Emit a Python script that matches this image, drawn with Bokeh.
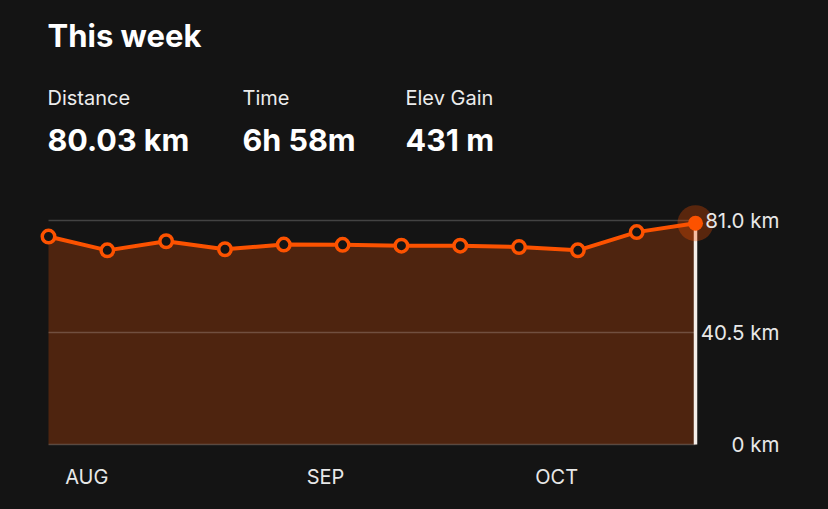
import re
from bokeh.plotting import figure
from bokeh.models import Range1d
from bokeh.core.properties import value
from bokeh.embed import file_html
from bokeh.resources import INLINE

# ---------------- data ----------------
title_text = "This week"
stat_labels = ["Distance", "Time", "Elev Gain"]
stat_values = ["80.03 km", "6h 58m", "431 m"]
weekly_km = [75.2, 70.2, 73.5, 70.6, 72.3, 72.2, 71.9, 71.9, 71.4, 70.2, 76.8, 80.03]
y_ticks = [0, 40.5, 81.0]
y_tick_labels = ["0 km", "40.5 km", "81.0 km"]
month_labels = ["AUG", "SEP", "OCT"]
month_pos = [0.65, 4.71, 8.64]

# ---------------- style ----------------
BG = "#141414"
ORANGE = "#fc5200"
FILL = "#4e240f"
FONT = value("Inter")
W, H = 828, 509

n = len(weekly_km)
xs = list(range(n))
ymax = y_ticks[-1]
# pixel anchors (from top-left of the figure)
X0_PX, X1_PX = 48, 695      # first and last week
Y0_PX, YMAX_PX = 444, 220   # 0 km and top tick
ppx = (X1_PX - X0_PX) / (n - 1)
ppy = (Y0_PX - YMAX_PX) / ymax


def dx(px):
    return (px - X0_PX) / ppx


def dy(py):
    return (Y0_PX - py) / ppy


p = figure(width=W, height=H, x_range=Range1d(dx(0), dx(W)), y_range=Range1d(dy(H), dy(0)),
           output_backend="svg", toolbar_location=None, x_axis_type=None, y_axis_type=None,
           min_border=0, outline_line_color=None, background_fill_color=BG,
           border_fill_color=BG)
p.grid.visible = False
p.styles = {"background-color": BG}

# header
p.text(x=[dx(47)], y=[dy(34.5)], text=[title_text], text_font=FONT, text_font_size="31px",
       text_font_style="bold", text_color="#ffffff", text_baseline="middle")
col_x = [dx(47), dx(242), dx(405)]
p.text(x=col_x, y=[dy(97.5)] * 3, text=stat_labels, text_font=FONT, text_font_size="20px",
       text_color="#ececec", text_baseline="middle")
p.text(x=col_x, y=[dy(138.5)] * 3, text=stat_values, text_font=FONT, text_font_size="30.5px",
       text_font_style="bold", text_color="#ffffff", text_baseline="middle")

# chart
p.varea(x=xs, y1=[0] * n, y2=weekly_km, fill_color=FILL)
p.segment(x0=[0] * len(y_ticks), x1=[n - 1] * len(y_ticks), y0=y_ticks, y1=y_ticks,
          line_color="white", line_alpha=0.2, line_width=1.5)
p.segment(x0=[n - 1], x1=[n - 1], y0=[0], y1=[weekly_km[-1]], line_color="#f4ede8", line_width=3.5)
p.line(xs, weekly_km, line_color=ORANGE, line_width=4)
p.scatter(xs[-1:], weekly_km[-1:], size=36, fill_color=ORANGE, fill_alpha=0.3, line_color=None)
p.scatter(xs[:-1], weekly_km[:-1], size=12.5, fill_color=BG, line_color=ORANGE, line_width=3.5)
p.scatter(xs[-1:], weekly_km[-1:], size=15, fill_color=ORANGE, line_color=None)

# y tick labels (right side, right aligned)
p.text(x=[dx(779)] * len(y_ticks), y=y_ticks, text=y_tick_labels, text_font=FONT,
       text_font_size="20.5px", text_color="#e8e8e8", text_align="right", text_baseline="middle")
# month labels
p.text(x=month_pos, y=[dy(476.5)] * len(month_pos), text=month_labels, text_font=FONT,
       text_font_size="20px", text_color="#e8e8e8", text_align="center", text_baseline="middle")

html = file_html(p, INLINE)
html = re.sub(r"<body[^>]*>", '<body style="background-color:#141414;">', html, count=1)
open("out.html", "w").write(html)
